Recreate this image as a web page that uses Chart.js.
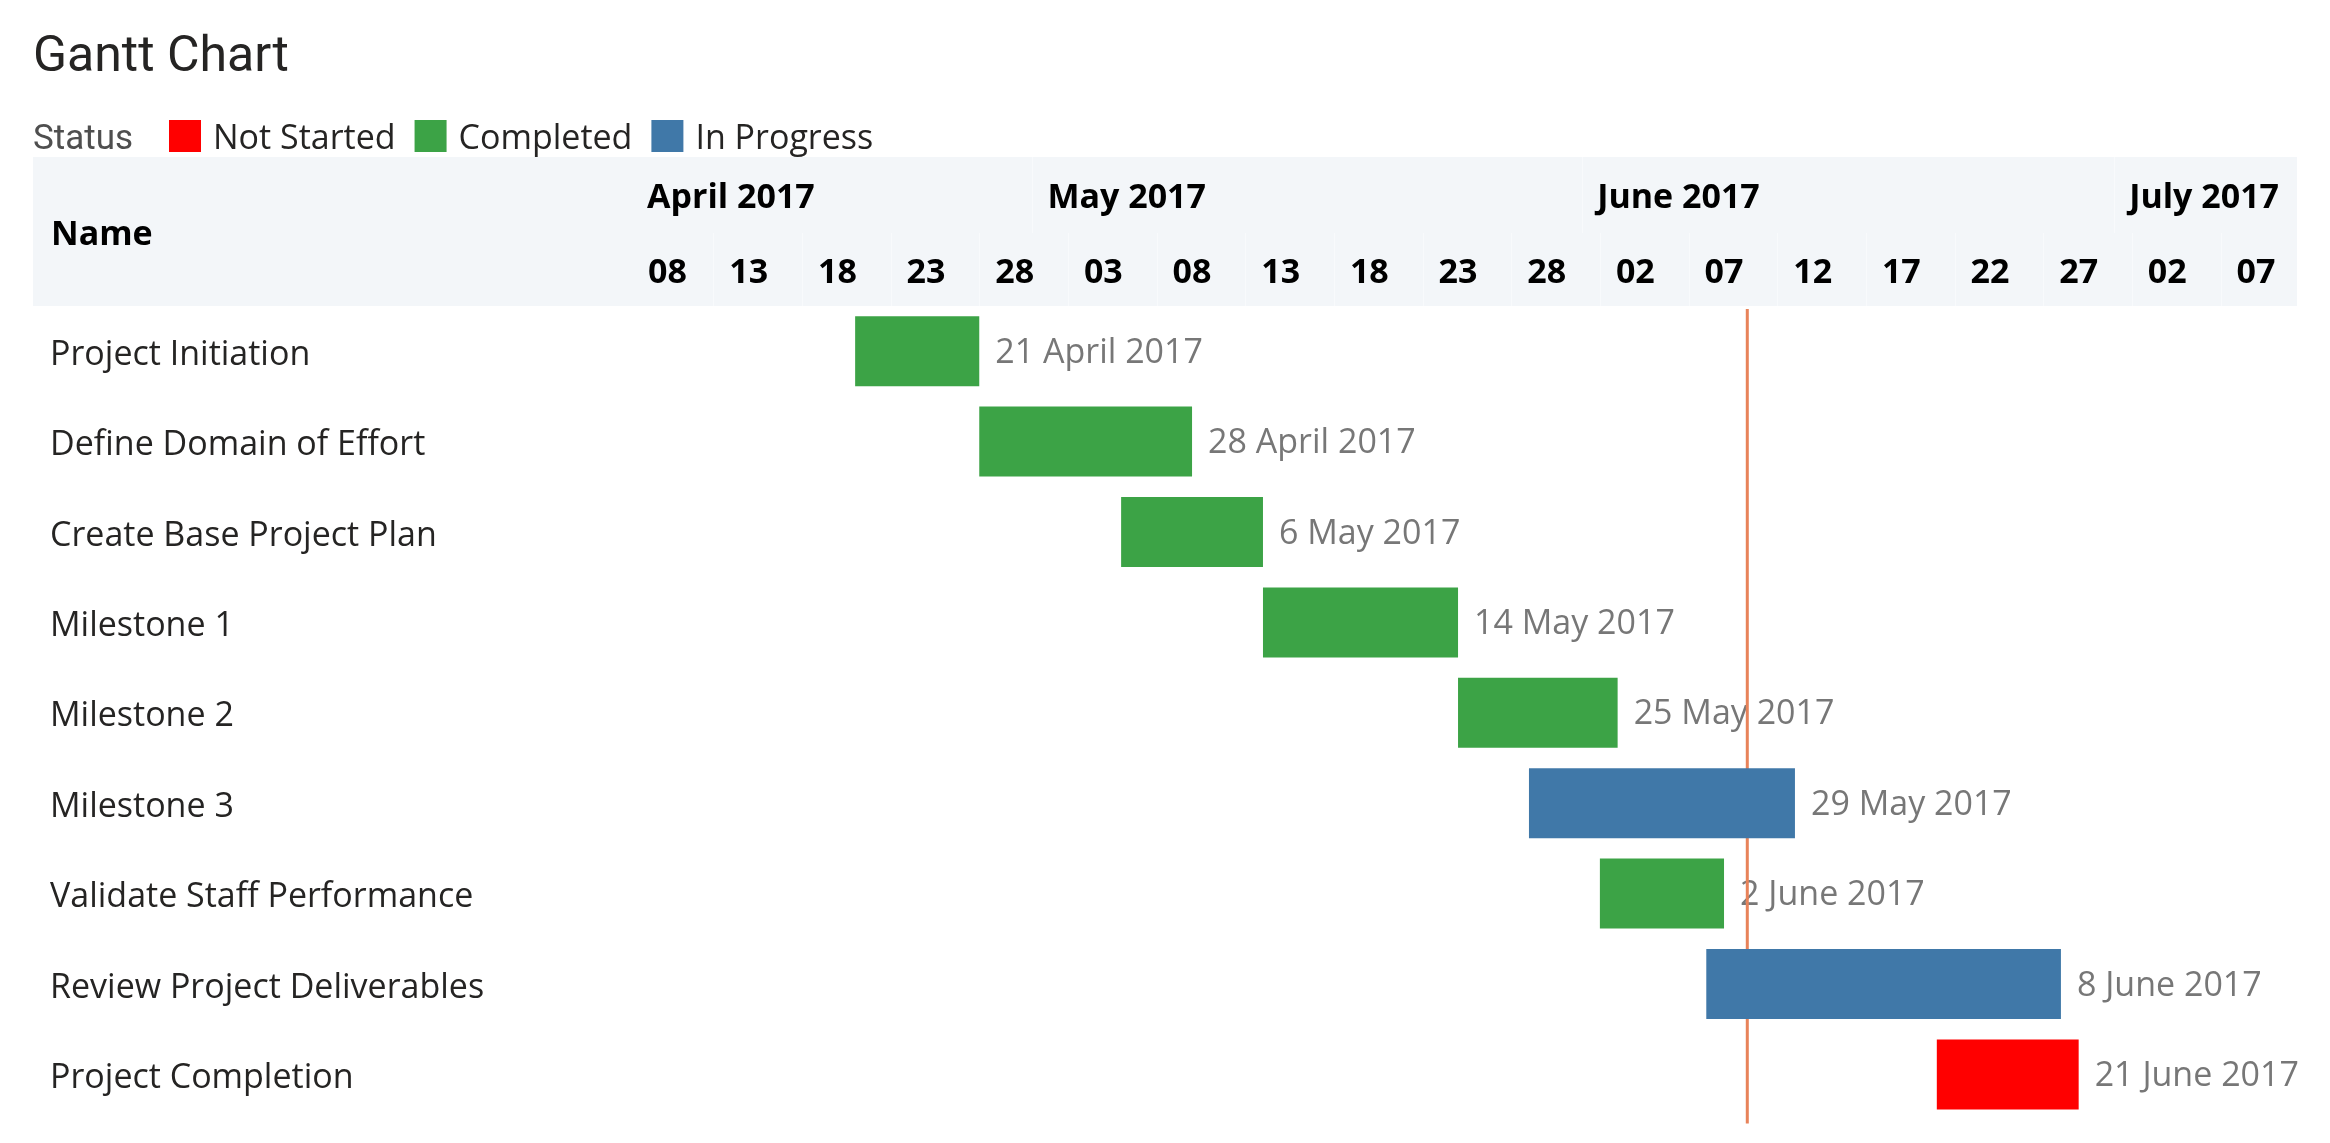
<!DOCTYPE html>
<html>
<head>
<meta charset="utf-8">
<title>Gantt Chart</title>
<script src="https://cdn.jsdelivr.net/npm/chart.js@4.4.1/dist/chart.umd.min.js"></script>
<style>
  html, body { margin: 0; padding: 0; background: #fff; overflow: hidden; }
  #gantt { display: block; }
</style>
</head>
<body>
<canvas id="gantt" width="2330" height="1143"></canvas>
<script>
// Chart data
const tasks = ['Project Initiation', 'Define Domain of Effort', 'Create Base Project Plan',
    'Milestone 1', 'Milestone 2', 'Milestone 3', 'Validate Staff Performance',
    'Review Project Deliverables', 'Project Completion'];
const startDates = ['2017-04-21', '2017-04-28', '2017-05-06', '2017-05-14', '2017-05-25',
    '2017-05-29', '2017-06-02', '2017-06-08', '2017-06-21'];
const endDates = ['2017-04-28', '2017-05-10', '2017-05-14', '2017-05-25', '2017-06-03',
    '2017-06-13', '2017-06-09', '2017-06-28', '2017-06-29'];
const statuses = ['Completed', 'Completed', 'Completed', 'Completed', 'Completed',
    'In Progress', 'Completed', 'In Progress', 'Not Started'];

// Legend / status colours
const statusNames = ['Not Started', 'Completed', 'In Progress'];
const statusColors = ['#FF0000', '#3CA346', '#4078A8'];

// Axis ticks
const dayTicks = ['2017-04-08', '2017-04-13', '2017-04-18', '2017-04-23', '2017-04-28',
    '2017-05-03', '2017-05-08', '2017-05-13', '2017-05-18', '2017-05-23', '2017-05-28',
    '2017-06-02', '2017-06-07', '2017-06-12', '2017-06-17', '2017-06-22', '2017-06-27',
    '2017-07-02', '2017-07-07'];
const monthTicks = ['2017-04-01', '2017-05-01', '2017-06-01', '2017-07-01'];
const monthLabels = ['April 2017', 'May 2017', 'June 2017', 'July 2017'];
const monthNames = ['January', 'February', 'March', 'April', 'May', 'June', 'July',
    'August', 'September', 'October', 'November', 'December'];

const axisMin = '2017-04-08T10:00';
const axisMax = '2017-07-11T07:30';
const today = '2017-06-10T07:30';

// date string -> day number
function toDay(s) {
    return Date.parse(s.length > 10 ? s + 'Z' : s + 'T00:00Z') / 86400000;
}

function dateLabel(s) {
    const p = s.split('-');
    return parseInt(p[2], 10) + ' ' + monthNames[parseInt(p[1], 10) - 1] + ' ' + p[0];
}

const segoe = '"Open Sans", "Noto Sans", sans-serif';
const din = 'Roboto, "Noto Sans", sans-serif';

// header band, title, legend, "Name" heading
const headerPlugin = {
    id: 'header',
    beforeDraw(chart) {
        const ctx = chart.ctx;
        const x = chart.scales.x, xm = chart.scales.xm;
        ctx.save();
        ctx.fillStyle = '#F3F6F9';
        ctx.fillRect(33, xm.top, chart.chartArea.right - 33, x.bottom - xm.top);

        ctx.strokeStyle = '#F8FAFC';
        ctx.lineWidth = 1;
        x.ticks.forEach(t => {
            if (t.value <= x.min) return;
            const px = Math.round(x.getPixelForValue(t.value)) + 0.5;
            ctx.beginPath(); ctx.moveTo(px, x.top); ctx.lineTo(px, x.bottom); ctx.stroke();
        });
        xm.ticks.forEach(t => {
            if (t.value <= xm.min) return;
            const px = Math.round(xm.getPixelForValue(t.value)) + 0.5;
            ctx.beginPath(); ctx.moveTo(px, xm.top); ctx.lineTo(px, xm.bottom); ctx.stroke();
        });

        ctx.fillStyle = '#000';
        ctx.font = 'bold 34px ' + segoe;
        ctx.textBaseline = 'middle';
        ctx.textAlign = 'left';
        ctx.fillText('Name', 51, 235);

        // title
        ctx.textBaseline = 'alphabetic';
        ctx.fillStyle = '#252423';
        ctx.font = '50px ' + din;
        ctx.fillText('Gantt Chart', 33, 71);

        // legend
        ctx.fillStyle = '#4F4F4F';
        ctx.font = '35px ' + din;
        ctx.fillText('Status', 33, 149);
        let lx = 169;
        ctx.font = '34px ' + segoe;
        statusNames.forEach((name, i) => {
            ctx.fillStyle = statusColors[i];
            ctx.fillRect(lx, 120, 32, 32);
            ctx.fillStyle = '#252423';
            ctx.fillText(name, lx + 44, 149);
            lx += 44 + ctx.measureText(name).width + 19;
        });
        ctx.restore();
    },
    beforeDatasetsDraw(chart) {
        const ctx = chart.ctx;
        const x = chart.scales.x;
        const area = chart.chartArea;
        const meta = chart.getDatasetMeta(0);
        ctx.save();
        // start date labels
        ctx.font = '34px ' + segoe;
        ctx.fillStyle = '#777777';
        ctx.textAlign = 'left';
        ctx.textBaseline = 'middle';
        meta.data.forEach((bar, i) => {
            ctx.fillText(dateLabel(startDates[i]), bar.x + 16, bar.y + 2);
        });
        // today line
        const tx = x.getPixelForValue(toDay(today));
        ctx.strokeStyle = '#E8835A';
        ctx.lineWidth = 3;
        ctx.beginPath();
        ctx.moveTo(tx, area.top + 3);
        ctx.lineTo(tx, area.bottom + 4);
        ctx.stroke();
        ctx.restore();
    }
};

function clampTicks(list) {
    return function (scale) {
        scale.ticks = list.map(d => ({ value: Math.max(scale.min, toDay(d)) }));
    };
}

const ctx = document.getElementById('gantt').getContext('2d');
new Chart(ctx, {
    type: 'bar',
    data: {
        labels: tasks,
        datasets: [{
            label: 'Status',
            data: startDates.map((s, i) => [toDay(s), toDay(endDates[i])]),
            backgroundColor: statuses.map(s => statusColors[statusNames.indexOf(s)]),
            borderWidth: 0,
            borderSkipped: false,
            categoryPercentage: 1,
            barPercentage: 0.774
        }]
    },
    options: {
        indexAxis: 'y',
        responsive: false,
        animation: false,
        devicePixelRatio: 1,
        layout: { padding: { left: 50, top: 157, right: 33, bottom: 23 } },
        plugins: {
            legend: { display: false },
            title: { display: false },
            tooltip: { enabled: false }
        },
        scales: {
            x: {
                type: 'linear',
                position: 'top',
                min: toDay(axisMin),
                max: toDay(axisMax),
                weight: 0,
                afterBuildTicks: clampTicks(dayTicks),
                afterFit(scale) { scale.height = 73; },
                grid: { display: false, drawTicks: false },
                border: { display: false },
                ticks: {
                    autoSkip: false,
                    maxRotation: 0,
                    minRotation: 0,
                    align: 'start',
                    labelOffset: 16,
                    padding: 12,
                    color: '#000',
                    font: { family: segoe, size: 34, weight: 'bold' },
                    callback: (v, i) => dayTicks[i].slice(8)
                }
            },
            xm: {
                type: 'linear',
                position: 'top',
                axis: 'x',
                min: toDay(axisMin),
                max: toDay(axisMax),
                weight: 1,
                afterBuildTicks: clampTicks(monthTicks),
                afterFit(scale) { scale.height = 76; },
                grid: { display: false, drawTicks: false },
                border: { display: false },
                ticks: {
                    autoSkip: false,
                    maxRotation: 0,
                    minRotation: 0,
                    align: 'start',
                    labelOffset: 15,
                    padding: 14,
                    color: '#000',
                    font: { family: segoe, size: 34, weight: 'bold' },
                    callback: (v, i) => monthLabels[i]
                }
            },
            y: {
                afterFit(scale) { scale.width = 582; },
                grid: { display: false },
                border: { display: false },
                ticks: {
                    crossAlign: 'far',
                    labelOffset: 4,
                    color: '#252423',
                    font: { family: segoe, size: 34 }
                }
            }
        }
    },
    plugins: [headerPlugin]
});
</script>
</body>
</html>
